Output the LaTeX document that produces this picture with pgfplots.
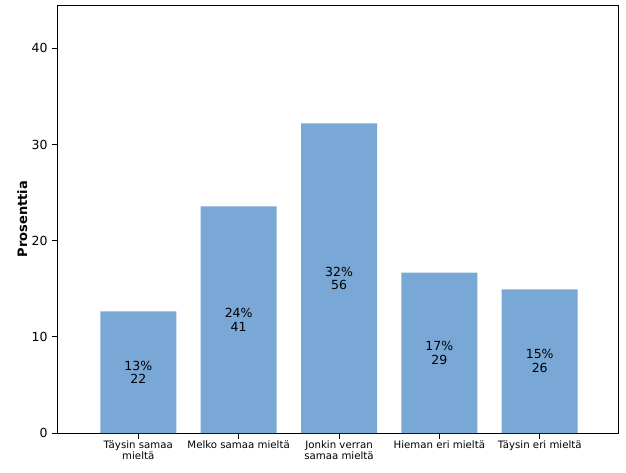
\documentclass[border=0pt]{standalone}
\usepackage{fontspec}
\setmainfont{DejaVu Sans}
\usepackage{pgfplots}
\usepackage{pgfplotstable}
\pgfplotsset{compat=1.18}
\definecolor{barblue}{RGB}{122,168,214}

% category index, percent, rounded percent, count
\pgfplotstableread{
x pct lab n
0 12.64 13 22
1 23.56 24 41
2 32.18 32 56
3 16.67 17 29
4 14.94 15 26
}\answers

\begin{document}
\begin{tikzpicture}
\useasboundingbox (-58pt,-39pt) rectangle (568pt,433pt);
\begin{axis}[
  at={(0,0)}, anchor=south west,
  scale only axis, width=560pt, height=428pt,
  xmin=-0.8, xmax=4.78, ymin=0, ymax=44.5,
  xtick={0,1,2,3,4},
  xticklabels={{Täysin samaa\\mieltä}, Melko samaa mieltä, {Jonkin verran\\samaa mieltä}, Hieman eri mieltä, Täysin eri mieltä},
  ytick={0,10,20,30,40},
  xtick pos=lower, ytick pos=left, tick align=outside,
  major tick length=6pt,
  tick style={black, line width=1pt},
  axis line style={line width=1pt},
  /pgf/number format/assume math mode=true,
  yticklabel style={font=\fontsize{12.5}{14}\selectfont, xshift=-1pt},
  xticklabel style={font=\fontsize{10.2}{11}\selectfont, align=center, yshift=2pt},
  every axis y label/.style={at={(axis description cs:-0.064,0.5)}, rotate=90, anchor=center, font=\fontsize{13}{14}\selectfont\bfseries},
  ylabel={Prosenttia},
]
\addplot[ybar, bar width=76pt, bar shift=0pt, fill=barblue, draw=none] table[x=x, y=pct] {\answers};
\addplot[draw=none, mark=none,
  point meta=\thisrow{lab},
  visualization depends on={\thisrow{n} \as \nval},
  nodes near coords={\pgfmathprintnumber{\pgfplotspointmeta}\%\\\pgfmathprintnumber{\nval}},
  nodes near coords style={align=center, anchor=center, font=\fontsize{12.5}{13.5}\selectfont},
] table[x=x, y expr=\thisrow{pct}/2] {\answers};
\end{axis}
\end{tikzpicture}
\end{document}
